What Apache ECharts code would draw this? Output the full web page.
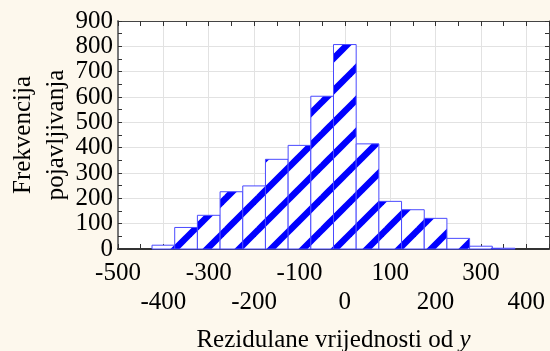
<!DOCTYPE html>
<html>
<head>
	<meta charset="utf-8">
	<title></title>
	<script src="https://cdn.jsdelivr.net/npm/echarts@6/dist/echarts.min.js"></script>
	<style>
		body { margin: 0; background: #fdf8ed; }
	</style>
</head>

<body>
	<div id="main" style="width: 550px; height: 351px;"></div>
	<script>

		// sredine razreda (sirina 50) i frekvencije
		var binCenters = [-400, -350, -300, -250, -200, -150, -100, -50, 0, 50, 100, 150, 200, 250, 300, 350]
		var counts = [15, 85, 133, 226, 249, 354, 409, 603, 807, 415, 188, 155, 121, 42, 11, 3]
		var binWidth = 50
		var xTicksUpper = [-500, -300, -100, 100, 300]
		var xTicksLower = [-400, -200, 0, 200, 400]
		var yTicks = [0, 100, 200, 300, 400, 500, 600, 700, 800, 900]

		var data = binCenters.map(function (c, i) { return [c, counts[i]] })

		// sraffura - plave kose linije
		var pat = document.createElement('canvas')
		pat.width = 32
		pat.height = 32
		var c = pat.getContext('2d')
		c.fillStyle = '#ffffff'
		c.fillRect(0, 0, 32, 32)
		c.strokeStyle = '#0000ff'
		c.lineWidth = 6.5
		for (var k = -2; k <= 3; k++) {
			var cc = k * 32 + 8
			c.beginPath()
			c.moveTo(cc + 20, -20)
			c.lineTo(cc - 52, 52)
			c.stroke()
		}

		var font = '"Liberation Serif", "Times New Roman", serif'

		var mCharts = echarts.init(document.getElementById('main'))

		var opt = {
			backgroundColor: '#fdf8ed',
			animation: false,
			grid: {
				left: 118,
				top: 21,
				right: 1,
				bottom: 102,
				show: true,
				backgroundColor: '#ffffff',
				borderWidth: 0,
				containLabel: false,
				outerBoundsMode: 'none'
			},
			xAxis: [
				{
					type: 'value',
					min: -500,
					max: 450,
					interval: 100,
					name: 'Rezidulane vrijednosti od {i|y}',
					nameLocation: 'middle',
					nameGap: 79,
					nameMoveOverlap: false,
					nameTextStyle: {
						fontFamily: font,
						fontSize: 25,
						color: '#000',
						rich: { i: { fontFamily: font, fontSize: 25, fontStyle: 'italic', color: '#000' } }
					},
					axisLine: { show: true, onZero: false, lineStyle: { color: '#333', width: 2 } },
					axisTick: { show: true, inside: true, length: 5, lineStyle: { color: '#333' } },
					minorTick: { show: true, splitNumber: 2, length: 5, lineStyle: { color: '#333' } },
					splitLine: { show: true, lineStyle: { color: '#e2e2e2' } },
					axisLabel: {
						fontFamily: font,
						fontSize: 25,
						color: '#000',
						margin: 12,
						showMinLabel: true,
						showMaxLabel: false,
						hideOverlap: false,
						formatter: function (v) { return xTicksUpper.indexOf(v) < 0 ? '' : String(v) }
					}
				},
				{
					type: 'value',
					position: 'top',
					min: -500,
					max: 450,
					interval: 100,
					axisLine: { show: true, onZero: false, lineStyle: { color: '#444', width: 1 } },
					axisTick: { show: true, inside: true, length: 5, lineStyle: { color: '#333' } },
					minorTick: { show: true, splitNumber: 2, length: 5, lineStyle: { color: '#333' } },
					splitLine: { show: false },
					axisLabel: { show: false }
				},
				{
					// drugi red oznaka na x osi
					type: 'value',
					position: 'bottom',
					min: -500,
					max: 450,
					interval: 100,
					axisLine: { show: false },
					axisTick: { show: false },
					splitLine: { show: false },
					axisLabel: {
						fontFamily: font,
						fontSize: 25,
						color: '#000',
						margin: 41,
						showMinLabel: true,
						showMaxLabel: false,
						hideOverlap: false,
						formatter: function (v) { return xTicksLower.indexOf(v) < 0 ? '' : String(v) }
					}
				}
			],
			yAxis: [
				{
					type: 'value',
					min: 0,
					max: 900,
					interval: 100,
					name: 'Frekvencija\npojavljivanja',
					nameLocation: 'middle',
					nameGap: 45,
					nameMoveOverlap: false,
					nameTextStyle: {
						fontFamily: font,
						fontSize: 25,
						lineHeight: 33,
						color: '#000'
					},
					axisLine: { show: true, onZero: false, lineStyle: { color: '#777', width: 2 } },
					axisTick: { show: true, inside: true, length: 4, lineStyle: { color: '#333' } },
					minorTick: { show: true, splitNumber: 2, length: 4, lineStyle: { color: '#333' } },
					splitLine: { show: true, lineStyle: { color: '#e2e2e2' } },
					axisLabel: {
						fontFamily: font,
						fontSize: 25,
						lineHeight: 20,
						color: '#000',
						margin: 5,
						showMinLabel: true,
						showMaxLabel: true,
						hideOverlap: false,
						formatter: function (v) { return yTicks.indexOf(v) < 0 ? '' : String(v) }
					}
				},
				{
					type: 'value',
					position: 'right',
					min: 0,
					max: 900,
					interval: 100,
					axisLine: { show: true, onZero: false, lineStyle: { color: '#444', width: 1 } },
					axisTick: { show: true, inside: true, length: 4, lineStyle: { color: '#333' } },
					minorTick: { show: true, splitNumber: 2, length: 4, lineStyle: { color: '#333' } },
					splitLine: { show: false },
					axisLabel: { show: false }
				}
			],
			series: [
				{
					type: 'custom',
					xAxisIndex: 0,
					yAxisIndex: 0,
					data: data,
					renderItem: function (params, api) {
						var x = api.value(0)
						var y = api.value(1)
						var p0 = api.coord([x - binWidth / 2, y])
						var p1 = api.coord([x + binWidth / 2, 0])
						return {
							type: 'rect',
							shape: { x: p0[0], y: p0[1], width: p1[0] - p0[0], height: p1[1] - p0[1] },
							style: {
								fill: { image: pat, repeat: 'repeat' },
								stroke: '#4a4aff',
								lineWidth: 1
							}
						}
					}
				}
			]
		}

		mCharts.setOption(opt)

	</script>

</body>
</html>
